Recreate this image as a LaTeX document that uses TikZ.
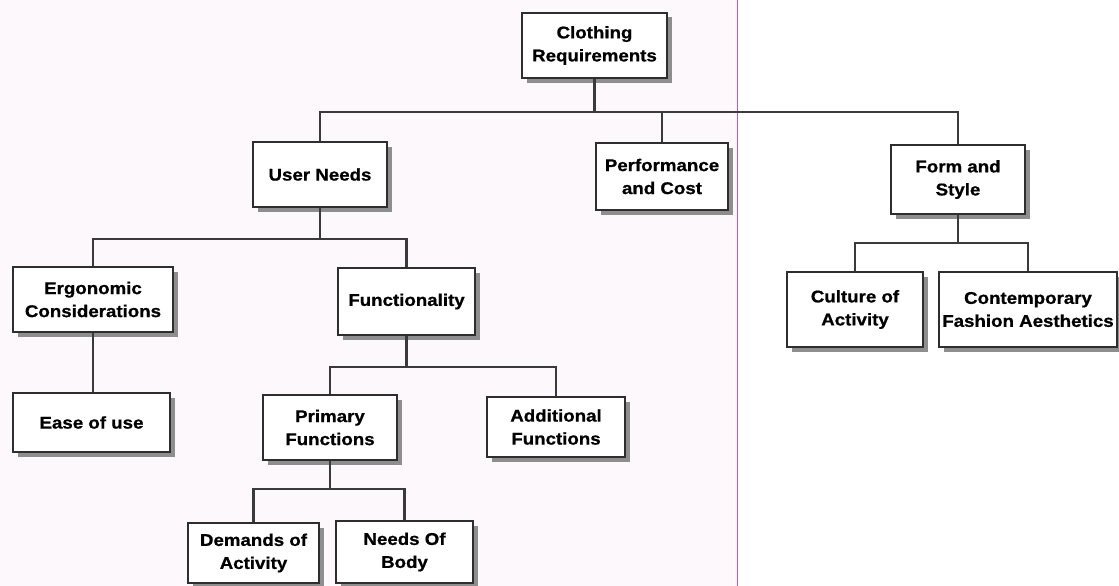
\documentclass[tikz,border=0pt]{standalone}
\usepackage{fontspec}
\setmainfont{Liberation Sans}[FakeStretch=1.1, FakeBold=0.8]
\usetikzlibrary{shadows}

\definecolor{inkline}{HTML}{3A3A3A}
\definecolor{boxedge}{HTML}{2E2E2E}
\definecolor{shadowgrey}{HTML}{8E8E8E}
\definecolor{margin}{HTML}{E050A8}
\definecolor{paper}{HTML}{FDF8FC}

\tikzset{
  reqbox/.style={draw=boxedge, line width=1.5pt, fill=white, align=center,
    inner sep=0pt, font=\bfseries\fontsize{17}{23}\selectfont,
    drop shadow={shadow xshift=4.5pt, shadow yshift=-4.5pt, fill=shadowgrey, opacity=1}},
  link/.style={draw=inkline, line width=2.3pt},
}

\begin{document}
\begin{tikzpicture}[x=1pt, y=-1pt]
  % page
  \useasboundingbox (0,0) rectangle (1119,586);
  \clip (0,0) rectangle (1119,586);
  \fill[paper] (0,0) rectangle (737,586);
  \fill[white] (737,0) rectangle (1119,586);
  \draw[margin, line width=1.5pt] (737.5,0) -- (737.5,586);

  % boxes
  \node[reqbox, minimum width=145pt, minimum height=65pt] (cr)  at (594.5,45.5) {Clothing\\Requirements};
  \node[reqbox, minimum width=134pt, minimum height=65pt] (un)  at (320,174.5)  {User Needs};
  \node[reqbox, minimum width=132pt, minimum height=67pt] (pc)  at (662,176.5)  {Performance\\and Cost};
  \node[reqbox, minimum width=134pt, minimum height=69pt] (fs)  at (958,179.5)  {Form and\\Style};
  \node[reqbox, minimum width=160pt, minimum height=65pt] (ec)  at (93,299.5)   {Ergonomic\\Considerations};
  \node[reqbox, minimum width=137pt, minimum height=67pt] (fu)  at (406.5,301.5){Functionality};
  \node[reqbox, minimum width=136pt, minimum height=75pt] (ca)  at (855,309.5)  {Culture of\\Activity};
  \node[reqbox, minimum width=178pt, minimum height=75pt] (cfa) at (1028,309.5) {Contemporary\\Fashion Aesthetics};
  \node[reqbox, minimum width=157pt, minimum height=59pt] (eu)  at (91.5,422.5) {Ease of use};
  \node[reqbox, minimum width=134pt, minimum height=65pt] (pf)  at (330,427.5)  {Primary\\Functions};
  \node[reqbox, minimum width=138pt, minimum height=60pt] (af)  at (556,427)    {Additional\\Functions};
  \node[reqbox, minimum width=131pt, minimum height=60pt] (da)  at (253.5,553)  {Demands of\\Activity};
  \node[reqbox, minimum width=137pt, minimum height=62pt] (nb)  at (404.5,552)  {Needs Of\\Body};

  % bus levels
  \coordinate (busA) at (0,112);
  \coordinate (busB) at (0,239);
  \coordinate (busC) at (0,243);
  \coordinate (busD) at (0,367);
  \coordinate (busE) at (0,489);

  % connectors
  \draw[link] (cr.south) -- (cr.south |- busA);
  \draw[link] (un.north) |- (fs.north |- busA) -- (fs.north);
  \draw[link] (pc.north) -- (pc.north |- busA);

  \draw[link] (un.south) -- (un.south |- busB);
  \draw[link] (ec.north) |- (fu.north |- busB) -- (fu.north);

  \draw[link] (fs.south) -- (fs.south |- busC);
  \draw[link] (ca.north) |- (cfa.north |- busC) -- (cfa.north);

  \draw[link] (ec.south) -- (eu.north -| ec.south);

  \draw[link] (fu.south) -- (fu.south |- busD);
  \draw[link] (pf.north) |- (af.north |- busD) -- (af.north);

  \draw[link] (pf.south) -- (pf.south |- busE);
  \draw[link] (da.north) |- (nb.north |- busE) -- (nb.north);
\end{tikzpicture}
\end{document}
